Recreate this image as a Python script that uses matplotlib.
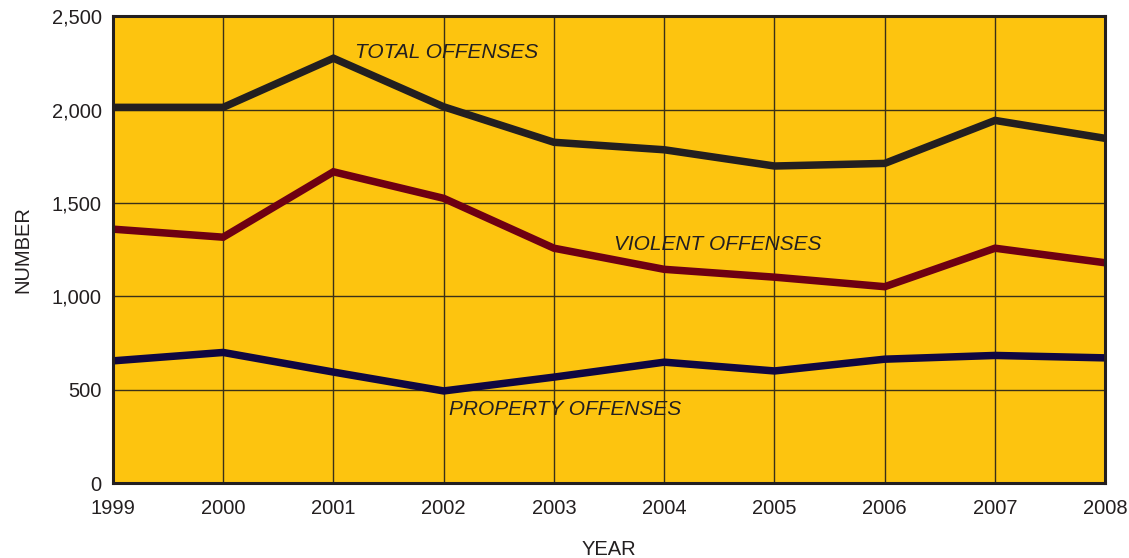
import matplotlib
matplotlib.use("Agg")
import matplotlib.pyplot as plt
from matplotlib.ticker import FuncFormatter

plt.rcParams["font.family"] = ["Liberation Sans", "DejaVu Sans"]

years = [1999, 2000, 2001, 2002, 2003, 2004, 2005, 2006, 2007, 2008]
total = [2012, 2012, 2275, 2015, 1825, 1785, 1698, 1712, 1942, 1846]
violent = [1360, 1317, 1667, 1525, 1258, 1145, 1103, 1052, 1258, 1180]
prop = [655, 700, 595, 494, 568, 648, 601, 664, 684, 671]

fig = plt.figure(figsize=(11.29, 5.58), dpi=100)
ax = fig.add_axes([0.100, 0.134, 0.879, 0.837])
ax.set_facecolor("#FDC40F")

ax.plot(years, total, color="#231F20", lw=5.4, solid_joinstyle="miter", zorder=3)
ax.plot(years, violent, color="#6E0012", lw=5.4, solid_joinstyle="miter", zorder=3)
ax.plot(years, prop, color="#100741", lw=5.4, solid_joinstyle="miter", zorder=3)

ax.set_xlim(1999, 2008)
ax.set_ylim(0, 2500)
ax.set_xticks(years)
ax.set_yticks(range(0, 2501, 500))
ax.yaxis.set_major_formatter(FuncFormatter(lambda v, p: f"{int(v):,}"))
ax.grid(True, color="#3a3018", lw=1.0, zorder=1)
ax.tick_params(length=0, labelsize=14.5, colors="#231F20")
ax.tick_params(axis="x", pad=11)
ax.tick_params(axis="y", pad=8)

for s in ax.spines.values():
    s.set_color("#231F20")
    s.set_linewidth(2.2)
    s.set_zorder(4)

txt = dict(fontsize=15, style="italic", color="#231F20", va="center", ha="left", zorder=5)
ax.text(2001.20, 2307, "TOTAL OFFENSES", **txt)
ax.text(2003.54, 1279, "VIOLENT OFFENSES", **txt)
ax.text(2002.05, 396, "PROPERTY OFFENSES", **txt)

ax.set_xlabel("YEAR", fontsize=14.5, color="#231F20", labelpad=16)
ax.set_ylabel("NUMBER", fontsize=14.5, color="#231F20", labelpad=14)

fig.savefig("out.png", dpi=100)
